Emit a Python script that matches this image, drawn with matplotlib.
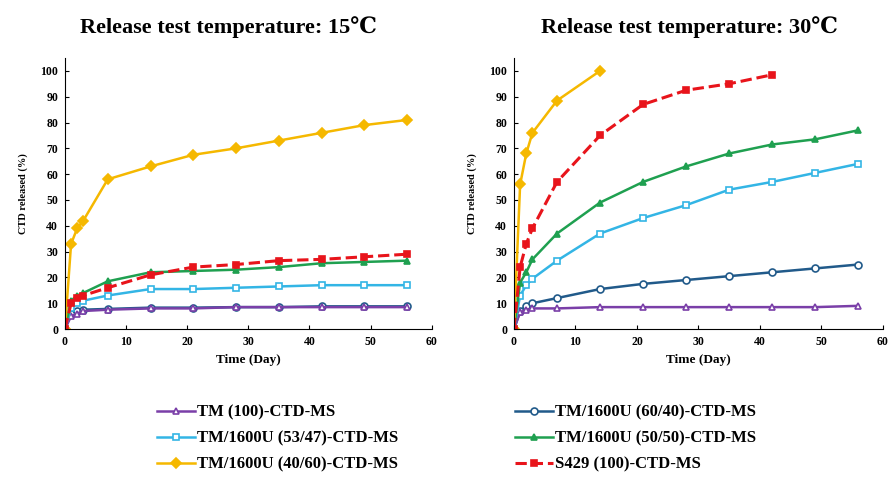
import matplotlib
matplotlib.use('Agg')
import matplotlib.pyplot as plt

plt.rcParams['font.family'] = ['Liberation Serif', 'DejaVu Serif']
plt.rcParams['font.weight'] = 'bold'

days = [0, 1, 2, 3, 7, 14, 21, 28, 35, 42, 49, 56]

labels = ['TM (100)-CTD-MS', 'TM/1600U (60/40)-CTD-MS', 'TM/1600U (53/47)-CTD-MS',
          'TM/1600U (50/50)-CTD-MS', 'TM/1600U (40/60)-CTD-MS', 'S429 (100)-CTD-MS']

# 15 C
tm100_15 = [0, 5, 6, 7, 7.5, 8, 8, 8.5, 8.5, 8.5, 8.5, 8.5]
u6040_15 = [0, 6, 7, 7.5, 7.8, 8.3, 8.3, 8.5, 8.5, 8.8, 8.8, 8.8]
u5347_15 = [0, 8, 10, 11, 13, 15.5, 15.5, 16, 16.5, 17, 17, 17]
u5050_15 = [0, 11, 13, 14, 18.5, 22, 22.5, 23, 24, 25.5, 26, 26.5]
u4060_15 = [0, 33, 39, 42, 58, 63, 67.5, 70, 73, 76, 79, 81]
s429_15 = [0, 10, 12, 13, 16, 21, 24, 25, 26.5, 27, 28, 29]

# 30 C
tm100_30 = [0, 6.5, 7.5, 8, 8, 8.5, 8.5, 8.5, 8.5, 8.5, 8.5, 9]
u6040_30 = [0, 7, 9, 10, 12, 15.5, 17.5, 19, 20.5, 22, 23.5, 25]
u5347_30 = [0, 13, 17, 19.5, 26.5, 37, 43, 48, 54, 57, 60.5, 64]
u5050_30 = [0, 18, 22, 27, 37, 49, 57, 63, 68, 71.5, 73.5, 77]
u4060_30 = [0, 56, 68, 76, 88.5, 100]
s429_30 = [0, 24, 33, 39, 57, 75, 87, 92.5, 95, 98.5]

styles = [
    dict(color='#7A3FA8', marker='^', mfc='white', ls='-'),
    dict(color='#215A8A', marker='o', mfc='white', ls='-'),
    dict(color='#33B5E5', marker='s', mfc='white', ls='-'),
    dict(color='#1FA050', marker='^', mfc='#1FA050', ls='-'),
    dict(color='#F5B800', marker='D', mfc='#F5B800', ls='-'),
    dict(color='#E8141B', marker='s', mfc='#E8141B', ls='--'),
]

fig = plt.figure(figsize=(8.9, 4.79), dpi=100)
ax1 = fig.add_axes([0.073, 0.313, 0.412, 0.566])
ax2 = fig.add_axes([0.5775, 0.313, 0.4146, 0.566])

panels = [
    (ax1, [tm100_15, u6040_15, u5347_15, u5050_15, u4060_15, s429_15]),
    (ax2, [tm100_30, u6040_30, u5347_30, u5050_30, u4060_30, s429_30]),
]

handles = [None] * 6
for ax, series in panels:
    for i in [1, 0, 2, 3, 4, 5]:
        vals, st = series[i], styles[i]
        lw = 2.2 if st['ls'] == '--' else 1.8
        h, = ax.plot(days[:len(vals)], vals, color=st['color'], marker=st['marker'],
                     mfc=st['mfc'], mec=st['color'], ms=5, lw=lw, ls=st['ls'],
                     mew=1.2, label=labels[i])
        handles[i] = h
    ax.set_xlim(0, 60)
    ax.set_ylim(0, 105)
    ax.set_xticks(range(0, 61, 10))
    ax.set_yticks(range(0, 101, 10))
    ax.spines['top'].set_visible(False)
    ax.spines['right'].set_visible(False)
    ax.tick_params(direction='in', labelsize=8.5, length=3, pad=5)
    ax.set_xlabel('Time (Day)', fontsize=9.5, fontweight='bold', labelpad=4)
    ax.set_ylabel('CTD released (%)', fontsize=7.5, fontweight='bold', labelpad=9)

fig.text(0.257, 0.944, 'Release test temperature: 15\u2103', fontsize=16,
         fontweight='bold', ha='center', va='center')
fig.text(0.775, 0.944, 'Release test temperature: 30\u2103', fontsize=16,
         fontweight='bold', ha='center', va='center')

order = [0, 2, 4, 1, 3, 5]
fig.legend([handles[i] for i in order], [labels[i] for i in order],
           ncol=2, loc='upper left', bbox_to_anchor=(157 / 890, 0.155),
           frameon=False, fontsize=12, columnspacing=7.0, handlelength=2.3,
           labelspacing=0.6, handletextpad=0.1, borderpad=0, borderaxespad=0)

fig.savefig('out.png', dpi=100)
